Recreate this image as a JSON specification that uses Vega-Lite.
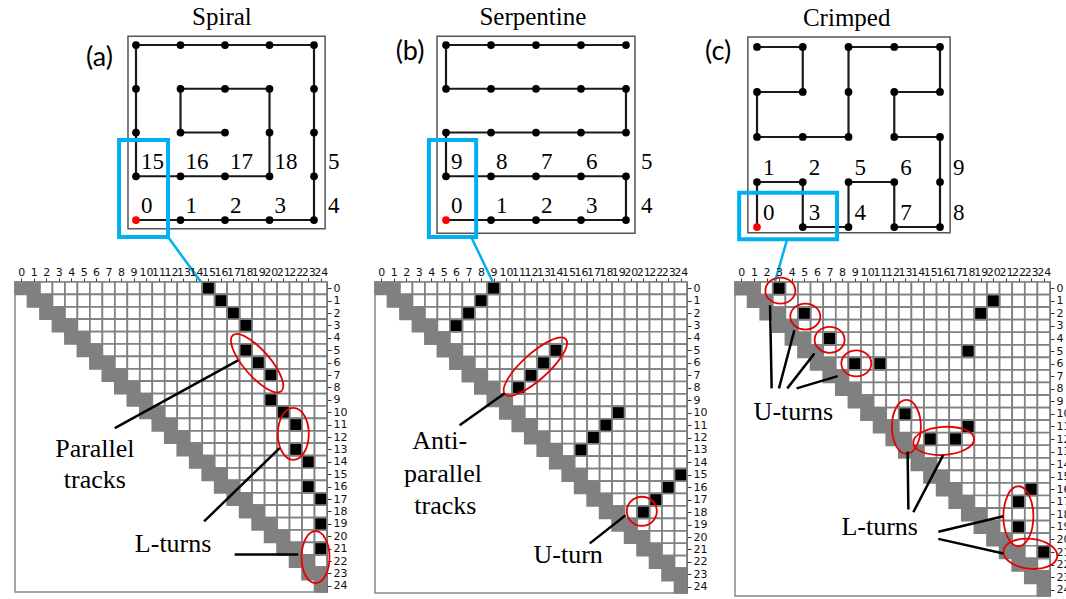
{
"$schema": "https://vega.github.io/schema/vega-lite/v6.json",
"padding": {"left": 10, "top": 0, "right": 0, "bottom": 0},
"autosize": {"type": "pad"},
"background": "white",
"config": {
  "view": {"stroke": null},
  "axis": {"title": null, "grid": false, "domain": true, "domainColor": "#333", "domainWidth": 1, "tickColor": "#333", "tickSize": 4, "labelFont": "DejaVu Sans", "labelFontSize": 11, "labelColor": "#111", "labelOverlap": false, "labelFlush": false, "labelPadding": 1}
},
"datasets": {
  "cells": [
{"r":0,"c":0},{"r":0,"c":1},{"r":0,"c":2},{"r":0,"c":3},{"r":0,"c":4},{"r":0,"c":5},{"r":0,"c":6},{"r":0,"c":7},{"r":0,"c":8},{"r":0,"c":9},{"r":0,"c":10},{"r":0,"c":11},{"r":0,"c":12},{"r":0,"c":13},{"r":0,"c":14},{"r":0,"c":15},{"r":0,"c":16},{"r":0,"c":17},{"r":0,"c":18},{"r":0,"c":19},{"r":0,"c":20},{"r":0,"c":21},{"r":0,"c":22},{"r":0,"c":23},{"r":0,"c":24},
{"r":1,"c":1},{"r":1,"c":2},{"r":1,"c":3},{"r":1,"c":4},{"r":1,"c":5},{"r":1,"c":6},{"r":1,"c":7},{"r":1,"c":8},{"r":1,"c":9},{"r":1,"c":10},{"r":1,"c":11},{"r":1,"c":12},{"r":1,"c":13},{"r":1,"c":14},{"r":1,"c":15},{"r":1,"c":16},{"r":1,"c":17},{"r":1,"c":18},{"r":1,"c":19},{"r":1,"c":20},{"r":1,"c":21},{"r":1,"c":22},{"r":1,"c":23},{"r":1,"c":24},
{"r":2,"c":2},{"r":2,"c":3},{"r":2,"c":4},{"r":2,"c":5},{"r":2,"c":6},{"r":2,"c":7},{"r":2,"c":8},{"r":2,"c":9},{"r":2,"c":10},{"r":2,"c":11},{"r":2,"c":12},{"r":2,"c":13},{"r":2,"c":14},{"r":2,"c":15},{"r":2,"c":16},{"r":2,"c":17},{"r":2,"c":18},{"r":2,"c":19},{"r":2,"c":20},{"r":2,"c":21},{"r":2,"c":22},{"r":2,"c":23},{"r":2,"c":24},
{"r":3,"c":3},{"r":3,"c":4},{"r":3,"c":5},{"r":3,"c":6},{"r":3,"c":7},{"r":3,"c":8},{"r":3,"c":9},{"r":3,"c":10},{"r":3,"c":11},{"r":3,"c":12},{"r":3,"c":13},{"r":3,"c":14},{"r":3,"c":15},{"r":3,"c":16},{"r":3,"c":17},{"r":3,"c":18},{"r":3,"c":19},{"r":3,"c":20},{"r":3,"c":21},{"r":3,"c":22},{"r":3,"c":23},{"r":3,"c":24},
{"r":4,"c":4},{"r":4,"c":5},{"r":4,"c":6},{"r":4,"c":7},{"r":4,"c":8},{"r":4,"c":9},{"r":4,"c":10},{"r":4,"c":11},{"r":4,"c":12},{"r":4,"c":13},{"r":4,"c":14},{"r":4,"c":15},{"r":4,"c":16},{"r":4,"c":17},{"r":4,"c":18},{"r":4,"c":19},{"r":4,"c":20},{"r":4,"c":21},{"r":4,"c":22},{"r":4,"c":23},{"r":4,"c":24},
{"r":5,"c":5},{"r":5,"c":6},{"r":5,"c":7},{"r":5,"c":8},{"r":5,"c":9},{"r":5,"c":10},{"r":5,"c":11},{"r":5,"c":12},{"r":5,"c":13},{"r":5,"c":14},{"r":5,"c":15},{"r":5,"c":16},{"r":5,"c":17},{"r":5,"c":18},{"r":5,"c":19},{"r":5,"c":20},{"r":5,"c":21},{"r":5,"c":22},{"r":5,"c":23},{"r":5,"c":24},
{"r":6,"c":6},{"r":6,"c":7},{"r":6,"c":8},{"r":6,"c":9},{"r":6,"c":10},{"r":6,"c":11},{"r":6,"c":12},{"r":6,"c":13},{"r":6,"c":14},{"r":6,"c":15},{"r":6,"c":16},{"r":6,"c":17},{"r":6,"c":18},{"r":6,"c":19},{"r":6,"c":20},{"r":6,"c":21},{"r":6,"c":22},{"r":6,"c":23},{"r":6,"c":24},
{"r":7,"c":7},{"r":7,"c":8},{"r":7,"c":9},{"r":7,"c":10},{"r":7,"c":11},{"r":7,"c":12},{"r":7,"c":13},{"r":7,"c":14},{"r":7,"c":15},{"r":7,"c":16},{"r":7,"c":17},{"r":7,"c":18},{"r":7,"c":19},{"r":7,"c":20},{"r":7,"c":21},{"r":7,"c":22},{"r":7,"c":23},{"r":7,"c":24},
{"r":8,"c":8},{"r":8,"c":9},{"r":8,"c":10},{"r":8,"c":11},{"r":8,"c":12},{"r":8,"c":13},{"r":8,"c":14},{"r":8,"c":15},{"r":8,"c":16},{"r":8,"c":17},{"r":8,"c":18},{"r":8,"c":19},{"r":8,"c":20},{"r":8,"c":21},{"r":8,"c":22},{"r":8,"c":23},{"r":8,"c":24},
{"r":9,"c":9},{"r":9,"c":10},{"r":9,"c":11},{"r":9,"c":12},{"r":9,"c":13},{"r":9,"c":14},{"r":9,"c":15},{"r":9,"c":16},{"r":9,"c":17},{"r":9,"c":18},{"r":9,"c":19},{"r":9,"c":20},{"r":9,"c":21},{"r":9,"c":22},{"r":9,"c":23},{"r":9,"c":24},
{"r":10,"c":10},{"r":10,"c":11},{"r":10,"c":12},{"r":10,"c":13},{"r":10,"c":14},{"r":10,"c":15},{"r":10,"c":16},{"r":10,"c":17},{"r":10,"c":18},{"r":10,"c":19},{"r":10,"c":20},{"r":10,"c":21},{"r":10,"c":22},{"r":10,"c":23},{"r":10,"c":24},
{"r":11,"c":11},{"r":11,"c":12},{"r":11,"c":13},{"r":11,"c":14},{"r":11,"c":15},{"r":11,"c":16},{"r":11,"c":17},{"r":11,"c":18},{"r":11,"c":19},{"r":11,"c":20},{"r":11,"c":21},{"r":11,"c":22},{"r":11,"c":23},{"r":11,"c":24},
{"r":12,"c":12},{"r":12,"c":13},{"r":12,"c":14},{"r":12,"c":15},{"r":12,"c":16},{"r":12,"c":17},{"r":12,"c":18},{"r":12,"c":19},{"r":12,"c":20},{"r":12,"c":21},{"r":12,"c":22},{"r":12,"c":23},{"r":12,"c":24},
{"r":13,"c":13},{"r":13,"c":14},{"r":13,"c":15},{"r":13,"c":16},{"r":13,"c":17},{"r":13,"c":18},{"r":13,"c":19},{"r":13,"c":20},{"r":13,"c":21},{"r":13,"c":22},{"r":13,"c":23},{"r":13,"c":24},
{"r":14,"c":14},{"r":14,"c":15},{"r":14,"c":16},{"r":14,"c":17},{"r":14,"c":18},{"r":14,"c":19},{"r":14,"c":20},{"r":14,"c":21},{"r":14,"c":22},{"r":14,"c":23},{"r":14,"c":24},
{"r":15,"c":15},{"r":15,"c":16},{"r":15,"c":17},{"r":15,"c":18},{"r":15,"c":19},{"r":15,"c":20},{"r":15,"c":21},{"r":15,"c":22},{"r":15,"c":23},{"r":15,"c":24},
{"r":16,"c":16},{"r":16,"c":17},{"r":16,"c":18},{"r":16,"c":19},{"r":16,"c":20},{"r":16,"c":21},{"r":16,"c":22},{"r":16,"c":23},{"r":16,"c":24},
{"r":17,"c":17},{"r":17,"c":18},{"r":17,"c":19},{"r":17,"c":20},{"r":17,"c":21},{"r":17,"c":22},{"r":17,"c":23},{"r":17,"c":24},
{"r":18,"c":18},{"r":18,"c":19},{"r":18,"c":20},{"r":18,"c":21},{"r":18,"c":22},{"r":18,"c":23},{"r":18,"c":24},
{"r":19,"c":19},{"r":19,"c":20},{"r":19,"c":21},{"r":19,"c":22},{"r":19,"c":23},{"r":19,"c":24},
{"r":20,"c":20},{"r":20,"c":21},{"r":20,"c":22},{"r":20,"c":23},{"r":20,"c":24},
{"r":21,"c":21},{"r":21,"c":22},{"r":21,"c":23},{"r":21,"c":24},
{"r":22,"c":22},{"r":22,"c":23},{"r":22,"c":24},
{"r":23,"c":23},{"r":23,"c":24},
{"r":24,"c":24}
  ],
  "contacts": [
{"p":"a","r":0,"c":15},{"p":"a","r":1,"c":16},{"p":"a","r":2,"c":17},{"p":"a","r":3,"c":18},{"p":"a","r":5,"c":18},{"p":"a","r":6,"c":19},{"p":"a","r":7,"c":20},{"p":"a","r":9,"c":20},{"p":"a","r":10,"c":21},{"p":"a","r":11,"c":22},{"p":"a","r":13,"c":22},{"p":"a","r":14,"c":23},{"p":"a","r":16,"c":23},{"p":"a","r":17,"c":24},{"p":"a","r":19,"c":24},{"p":"a","r":21,"c":24},
{"p":"b","r":0,"c":9},{"p":"b","r":1,"c":8},{"p":"b","r":2,"c":7},{"p":"b","r":3,"c":6},{"p":"b","r":5,"c":14},{"p":"b","r":6,"c":13},{"p":"b","r":7,"c":12},{"p":"b","r":8,"c":11},{"p":"b","r":10,"c":19},{"p":"b","r":11,"c":18},{"p":"b","r":12,"c":17},{"p":"b","r":13,"c":16},{"p":"b","r":15,"c":24},{"p":"b","r":16,"c":23},{"p":"b","r":17,"c":22},{"p":"b","r":18,"c":21},
{"p":"c","r":0,"c":3},{"p":"c","r":1,"c":20},{"p":"c","r":2,"c":5},{"p":"c","r":2,"c":19},{"p":"c","r":4,"c":7},{"p":"c","r":5,"c":18},{"p":"c","r":6,"c":9},{"p":"c","r":6,"c":11},{"p":"c","r":10,"c":13},{"p":"c","r":11,"c":18},{"p":"c","r":12,"c":15},{"p":"c","r":12,"c":17},{"p":"c","r":16,"c":23},{"p":"c","r":17,"c":22},{"p":"c","r":19,"c":22},{"p":"c","r":21,"c":24}
  ],
  "ell": [
{"e":"a1","c":18.9,"r":6.05},{"e":"a2","c":21.8,"r":11.75},{"e":"a3","c":23.58,"r":21.69},
{"e":"b1","c":12.35,"r":6.3},{"e":"b2","c":20.88,"r":17.93},
{"e":"c1","c":3.1,"r":0.19},{"e":"c2","c":5.08,"r":2.25},{"e":"c3","c":7.01,"r":4.1},{"e":"c4","c":9.13,"r":5.98},{"e":"c5","c":13.1,"r":11.03},{"e":"c6","c":16.06,"r":12.15},{"e":"c7","c":21.99,"r":18.15},{"e":"c8","c":22.94,"r":21.14}
  ],
  "mline": [
{"p":"a","c":17.37,"r":5.82,"c2":7.5,"r2":11.29},{"p":"a","c":20.7,"r":12.89,"c2":14.65,"r2":18.81},{"p":"a","c":17.1,"r":21.47,"c2":22.2,"r2":21.47},
{"p":"b","c":9.87,"r":8.46,"c2":6.28,"r2":11.02},{"p":"b","c":19.58,"r":18.25,"c2":16.71,"r2":20.51},
{"p":"c","c":2.28,"r":1.35,"c2":2.41,"r2":7.97},{"p":"c","c":4.21,"r":3.34,"c2":2.99,"r2":7.97},{"p":"c","c":5.8,"r":5.19,"c2":3.65,"r2":7.97},{"p":"c","c":7.65,"r":6.99,"c2":4.39,"r2":7.97},
{"p":"c","c":13.2,"r":12.99,"c2":13.26,"r2":17.62},{"p":"c","c":16.03,"r":13.26,"c2":13.65,"r2":17.83},{"p":"c","c":15.64,"r":19.39,"c2":20.8,"r2":18.15},{"p":"c","c":15.64,"r":19.95,"c2":20.8,"r2":21.11}
  ],
  "mtext": [
{"p":"a","t":"Parallel","c":5.9,"r":13.63},{"p":"a","t":"tracks","c":5.9,"r":16.09},{"p":"a","t":"L-turns","c":12.17,"r":21.29},
{"p":"b","t":"Anti-","c":4.69,"r":12.93},{"p":"b","t":"parallel","c":4.95,"r":15.59},{"p":"b","t":"tracks","c":5.14,"r":18.12},{"p":"b","t":"U-turn","c":14.98,"r":22.1},
{"p":"c","t":"U-turns","c":4.13,"r":10.48},{"p":"c","t":"L-turns","c":10.98,"r":19.66}
  ],
  "nodes": [
{"p":"a","i":0,"x":0,"y":0,"l":1},{"p":"a","i":1,"x":1,"y":0,"l":1},{"p":"a","i":2,"x":2,"y":0,"l":1},{"p":"a","i":3,"x":3,"y":0,"l":1},{"p":"a","i":4,"x":4,"y":0,"l":1},{"p":"a","i":5,"x":4,"y":1,"l":1},{"p":"a","i":6,"x":4,"y":2},{"p":"a","i":7,"x":4,"y":3},{"p":"a","i":8,"x":4,"y":4},{"p":"a","i":9,"x":3,"y":4},{"p":"a","i":10,"x":2,"y":4},{"p":"a","i":11,"x":1,"y":4},{"p":"a","i":12,"x":0,"y":4},{"p":"a","i":13,"x":0,"y":3},{"p":"a","i":14,"x":0,"y":2},{"p":"a","i":15,"x":0,"y":1,"l":1},{"p":"a","i":16,"x":1,"y":1,"l":1},{"p":"a","i":17,"x":2,"y":1,"l":1},{"p":"a","i":18,"x":3,"y":1,"l":1},{"p":"a","i":19,"x":3,"y":2},{"p":"a","i":20,"x":3,"y":3},{"p":"a","i":21,"x":2,"y":3},{"p":"a","i":22,"x":1,"y":3},{"p":"a","i":23,"x":1,"y":2},{"p":"a","i":24,"x":2,"y":2},
{"p":"b","i":0,"x":0,"y":0,"l":1},{"p":"b","i":1,"x":1,"y":0,"l":1},{"p":"b","i":2,"x":2,"y":0,"l":1},{"p":"b","i":3,"x":3,"y":0,"l":1},{"p":"b","i":4,"x":4,"y":0,"l":1},{"p":"b","i":5,"x":4,"y":1,"l":1},{"p":"b","i":6,"x":3,"y":1,"l":1},{"p":"b","i":7,"x":2,"y":1,"l":1},{"p":"b","i":8,"x":1,"y":1,"l":1},{"p":"b","i":9,"x":0,"y":1,"l":1},{"p":"b","i":10,"x":0,"y":2},{"p":"b","i":11,"x":1,"y":2},{"p":"b","i":12,"x":2,"y":2},{"p":"b","i":13,"x":3,"y":2},{"p":"b","i":14,"x":4,"y":2},{"p":"b","i":15,"x":4,"y":3},{"p":"b","i":16,"x":3,"y":3},{"p":"b","i":17,"x":2,"y":3},{"p":"b","i":18,"x":1,"y":3},{"p":"b","i":19,"x":0,"y":3},{"p":"b","i":20,"x":0,"y":4},{"p":"b","i":21,"x":1,"y":4},{"p":"b","i":22,"x":2,"y":4},{"p":"b","i":23,"x":3,"y":4},{"p":"b","i":24,"x":4,"y":4},
{"p":"c","i":0,"x":0,"y":0,"l":1},{"p":"c","i":1,"x":0,"y":1,"l":1},{"p":"c","i":2,"x":1,"y":1,"l":1},{"p":"c","i":3,"x":1,"y":0,"l":1},{"p":"c","i":4,"x":2,"y":0,"l":1},{"p":"c","i":5,"x":2,"y":1,"l":1},{"p":"c","i":6,"x":3,"y":1,"l":1},{"p":"c","i":7,"x":3,"y":0,"l":1},{"p":"c","i":8,"x":4,"y":0,"l":1},{"p":"c","i":9,"x":4,"y":1,"l":1},{"p":"c","i":10,"x":4,"y":2},{"p":"c","i":11,"x":3,"y":2},{"p":"c","i":12,"x":3,"y":3},{"p":"c","i":13,"x":4,"y":3},{"p":"c","i":14,"x":4,"y":4},{"p":"c","i":15,"x":3,"y":4},{"p":"c","i":16,"x":2,"y":4},{"p":"c","i":17,"x":2,"y":3},{"p":"c","i":18,"x":2,"y":2},{"p":"c","i":19,"x":1,"y":2},{"p":"c","i":20,"x":0,"y":2},{"p":"c","i":21,"x":0,"y":3},{"p":"c","i":22,"x":1,"y":3},{"p":"c","i":23,"x":1,"y":4},{"p":"c","i":24,"x":0,"y":4}
  ],
  "rects": [
{"p":"a","k":"f","x":-0.18,"x2":4.25,"y":-0.2,"y2":4.2},{"p":"a","k":"h","x":-0.38,"x2":0.72,"y":-0.39,"y2":1.83},
{"p":"b","k":"f","x":-0.2,"x2":4.2,"y":-0.3,"y2":4.2},{"p":"b","k":"h","x":-0.38,"x2":0.67,"y":-0.39,"y2":1.83},
{"p":"c","k":"f","x":-0.2,"x2":4.22,"y":-0.13,"y2":4.22},{"p":"c","k":"h","x":-0.39,"x2":1.75,"y":-0.27,"y2":0.76}
  ],
  "conn": [
{"p":"a","x":0.72,"y":-0.39,"x2":1.46,"y2":-1.417},
{"p":"b","x":0.56,"y":-0.39,"x2":1.04,"y2":-1.417},
{"p":"c","x":0.66,"y":-0.27,"x2":0.39,"y2":-1.222}
  ],
  "dtext": [
{"p":"a","k":"t","t":"Spiral","x":1.93,"y":4.46},{"p":"a","k":"p","t":"(a)","x":-0.82,"y":3.7},
{"p":"b","k":"t","t":"Serpentine","x":1.93,"y":4.46},{"p":"b","k":"p","t":"(b)","x":-0.8,"y":3.85},
{"p":"c","k":"t","t":"Crimped","x":1.96,"y":4.47},{"p":"c","k":"p","t":"(c)","x":-0.85,"y":3.88}
  ]
},
"columns": 3,
"bounds": "flush",
"align": "each",
"spacing": {"row": 0, "column": 48},
"concat": [
{
 "width": 312, "height": 282,
 "encoding": {
  "x": {"field": "x", "type": "quantitative", "scale": {"domain": [-2.719, 4.292], "nice": false, "zero": false}, "axis": null},
  "y": {"field": "y", "type": "quantitative", "scale": {"domain": [-1.417, 5.029], "nice": false, "zero": false}, "axis": null}
 },
 "layer": [
  {"data": {"name": "rects"}, "transform": [{"filter": "datum.p=='a' && datum.k=='f'"}], "mark": {"type": "rect", "filled": false, "stroke": "#555", "strokeWidth": 1.5}, "encoding": {"x2": {"field": "x2"}, "y2": {"field": "y2"}}},
  {"data": {"name": "nodes"}, "transform": [{"filter": "datum.p=='a'"}], "mark": {"type": "line", "color": "#1a1a1a", "strokeWidth": 2.2}, "encoding": {"order": {"field": "i", "type": "quantitative"}}},
  {"data": {"name": "nodes"}, "transform": [{"filter": "datum.p=='a' && datum.i>0"}], "mark": {"type": "circle", "color": "#000", "size": 60, "opacity": 1}},
  {"data": {"name": "nodes"}, "transform": [{"filter": "datum.p=='a' && datum.i==0"}], "mark": {"type": "circle", "color": "#ff0000", "size": 60, "opacity": 1}},
  {"data": {"name": "nodes"}, "transform": [{"filter": "datum.p=='a' && datum.l==1 && datum.x<4"}], "mark": {"type": "text", "font": "Liberation Serif", "fontSize": 23, "align": "left", "baseline": "alphabetic", "dx": 5, "dy": -7}, "encoding": {"text": {"field": "i", "type": "nominal"}}},
  {"data": {"name": "nodes"}, "transform": [{"filter": "datum.p=='a' && datum.l==1 && datum.x==4"}], "mark": {"type": "text", "font": "Liberation Serif", "fontSize": 23, "align": "left", "baseline": "alphabetic", "dx": 14, "dy": -7}, "encoding": {"text": {"field": "i", "type": "nominal"}}},
  {"data": {"name": "rects"}, "transform": [{"filter": "datum.p=='a' && datum.k=='h'"}], "mark": {"type": "rect", "filled": false, "stroke": "#00b0f0", "strokeWidth": 4}, "encoding": {"x2": {"field": "x2"}, "y2": {"field": "y2"}}},
  {"data": {"name": "conn"}, "transform": [{"filter": "datum.p=='a'"}], "mark": {"type": "rule", "color": "#00b0f0", "strokeWidth": 2.5}, "encoding": {"x2": {"field": "x2"}, "y2": {"field": "y2"}}},
  {"data": {"name": "dtext"}, "transform": [{"filter": "datum.p=='a' && datum.k=='t'"}], "mark": {"type": "text", "font": "Liberation Serif", "fontSize": 25, "align": "center", "baseline": "alphabetic"}, "encoding": {"text": {"field": "t"}}},
  {"data": {"name": "dtext"}, "transform": [{"filter": "datum.p=='a' && datum.k=='p'"}], "mark": {"type": "text", "font": "Lato", "fontSize": 27, "align": "center", "baseline": "middle"}, "encoding": {"text": {"field": "t"}}}
 ]
},
{
 "width": 312, "height": 282,
 "encoding": {
  "x": {"field": "x", "type": "quantitative", "scale": {"domain": [-1.578, 5.356], "nice": false, "zero": false}, "axis": null},
  "y": {"field": "y", "type": "quantitative", "scale": {"domain": [-1.417, 5.029], "nice": false, "zero": false}, "axis": null}
 },
 "layer": [
  {"data": {"name": "rects"}, "transform": [{"filter": "datum.p=='b' && datum.k=='f'"}], "mark": {"type": "rect", "filled": false, "stroke": "#555", "strokeWidth": 1.5}, "encoding": {"x2": {"field": "x2"}, "y2": {"field": "y2"}}},
  {"data": {"name": "nodes"}, "transform": [{"filter": "datum.p=='b'"}], "mark": {"type": "line", "color": "#1a1a1a", "strokeWidth": 2.2}, "encoding": {"order": {"field": "i", "type": "quantitative"}}},
  {"data": {"name": "nodes"}, "transform": [{"filter": "datum.p=='b' && datum.i>0"}], "mark": {"type": "circle", "color": "#000", "size": 60, "opacity": 1}},
  {"data": {"name": "nodes"}, "transform": [{"filter": "datum.p=='b' && datum.i==0"}], "mark": {"type": "circle", "color": "#ff0000", "size": 60, "opacity": 1}},
  {"data": {"name": "nodes"}, "transform": [{"filter": "datum.p=='b' && datum.l==1 && datum.x<4"}], "mark": {"type": "text", "font": "Liberation Serif", "fontSize": 23, "align": "left", "baseline": "alphabetic", "dx": 5, "dy": -7}, "encoding": {"text": {"field": "i", "type": "nominal"}}},
  {"data": {"name": "nodes"}, "transform": [{"filter": "datum.p=='b' && datum.l==1 && datum.x==4"}], "mark": {"type": "text", "font": "Liberation Serif", "fontSize": 23, "align": "left", "baseline": "alphabetic", "dx": 15, "dy": -7}, "encoding": {"text": {"field": "i", "type": "nominal"}}},
  {"data": {"name": "rects"}, "transform": [{"filter": "datum.p=='b' && datum.k=='h'"}], "mark": {"type": "rect", "filled": false, "stroke": "#00b0f0", "strokeWidth": 4}, "encoding": {"x2": {"field": "x2"}, "y2": {"field": "y2"}}},
  {"data": {"name": "conn"}, "transform": [{"filter": "datum.p=='b'"}], "mark": {"type": "rule", "color": "#00b0f0", "strokeWidth": 2.5}, "encoding": {"x2": {"field": "x2"}, "y2": {"field": "y2"}}},
  {"data": {"name": "dtext"}, "transform": [{"filter": "datum.p=='b' && datum.k=='t'"}], "mark": {"type": "text", "font": "Liberation Serif", "fontSize": 25, "align": "center", "baseline": "alphabetic"}, "encoding": {"text": {"field": "t"}}},
  {"data": {"name": "dtext"}, "transform": [{"filter": "datum.p=='b' && datum.k=='p'"}], "mark": {"type": "text", "font": "Lato", "fontSize": 27, "align": "center", "baseline": "middle"}, "encoding": {"text": {"field": "t"}}}
 ]
},
{
 "width": 315, "height": 282,
 "encoding": {
  "x": {"field": "x", "type": "quantitative", "scale": {"domain": [-0.481, 6.404], "nice": false, "zero": false}, "axis": null},
  "y": {"field": "y", "type": "quantitative", "scale": {"domain": [-1.222, 5.044], "nice": false, "zero": false}, "axis": null}
 },
 "layer": [
  {"data": {"name": "rects"}, "transform": [{"filter": "datum.p=='c' && datum.k=='f'"}], "mark": {"type": "rect", "filled": false, "stroke": "#555", "strokeWidth": 1.5}, "encoding": {"x2": {"field": "x2"}, "y2": {"field": "y2"}}},
  {"data": {"name": "nodes"}, "transform": [{"filter": "datum.p=='c'"}], "mark": {"type": "line", "color": "#1a1a1a", "strokeWidth": 2.2}, "encoding": {"order": {"field": "i", "type": "quantitative"}}},
  {"data": {"name": "nodes"}, "transform": [{"filter": "datum.p=='c' && datum.i>0"}], "mark": {"type": "circle", "color": "#000", "size": 60, "opacity": 1}},
  {"data": {"name": "nodes"}, "transform": [{"filter": "datum.p=='c' && datum.i==0"}], "mark": {"type": "circle", "color": "#ff0000", "size": 60, "opacity": 1}},
  {"data": {"name": "nodes"}, "transform": [{"filter": "datum.p=='c' && datum.l==1 && datum.x<4"}], "mark": {"type": "text", "font": "Liberation Serif", "fontSize": 23, "align": "left", "baseline": "alphabetic", "dx": 6, "dy": -7}, "encoding": {"text": {"field": "i", "type": "nominal"}}},
  {"data": {"name": "nodes"}, "transform": [{"filter": "datum.p=='c' && datum.l==1 && datum.x==4"}], "mark": {"type": "text", "font": "Liberation Serif", "fontSize": 23, "align": "left", "baseline": "alphabetic", "dx": 13, "dy": -7}, "encoding": {"text": {"field": "i", "type": "nominal"}}},
  {"data": {"name": "rects"}, "transform": [{"filter": "datum.p=='c' && datum.k=='h'"}], "mark": {"type": "rect", "filled": false, "stroke": "#00b0f0", "strokeWidth": 4}, "encoding": {"x2": {"field": "x2"}, "y2": {"field": "y2"}}},
  {"data": {"name": "conn"}, "transform": [{"filter": "datum.p=='c'"}], "mark": {"type": "rule", "color": "#00b0f0", "strokeWidth": 2.5}, "encoding": {"x2": {"field": "x2"}, "y2": {"field": "y2"}}},
  {"data": {"name": "dtext"}, "transform": [{"filter": "datum.p=='c' && datum.k=='t'"}], "mark": {"type": "text", "font": "Liberation Serif", "fontSize": 25, "align": "center", "baseline": "alphabetic"}, "encoding": {"text": {"field": "t"}}},
  {"data": {"name": "dtext"}, "transform": [{"filter": "datum.p=='c' && datum.k=='p'"}], "mark": {"type": "text", "font": "Lato", "fontSize": 27, "align": "center", "baseline": "middle"}, "encoding": {"text": {"field": "t"}}}
 ]
},
{
 "width": 312, "height": 310,
 "view": {"stroke": "#888", "strokeWidth": 1.5},
 "encoding": {
  "x": {"field": "c", "type": "quantitative", "scale": {"domain": [-0.5, 24.5], "nice": false, "zero": false}, "axis": {"orient": "top", "format": "d", "values": [0,1,2,3,4,5,6,7,8,9,10,11,12,13,14,15,16,17,18,19,20,21,22,23,24]}},
  "y": {"field": "r", "type": "quantitative", "scale": {"domain": [-0.5, 24.5], "nice": false, "zero": false, "reverse": true}, "axis": {"orient": "right", "format": "d", "labelPadding": 2, "values": [0,1,2,3,4,5,6,7,8,9,10,11,12,13,14,15,16,17,18,19,20,21,22,23,24]}}
 },
 "layer": [
  {"data": {"name": "cells"}, "mark": {"type": "square", "size": 154.8, "opacity": 1, "stroke": "#808080", "strokeWidth": 1.7}, "encoding": {"fill": {"condition": {"test": "datum.c - datum.r <= 1", "value": "#808080"}, "value": "#ffffff"}}},
  {"data": {"name": "contacts"}, "transform": [{"filter": "datum.p=='a'"}], "mark": {"type": "square", "size": 154.8, "opacity": 1, "fill": "#000", "stroke": "#808080", "strokeWidth": 1.7}},
  {"data": {"name": "ell"}, "transform": [{"filter": "datum.e=='a1'"}], "mark": {"type": "point", "shape": "M-37,0A37,13,0,1,0,37,0A37,13,0,1,0,-37,0Z", "size": 4, "angle": 49, "filled": false, "color": "#e60000", "strokeWidth": 1.8, "opacity": 1}},
  {"data": {"name": "ell"}, "transform": [{"filter": "datum.e=='a2'"}], "mark": {"type": "point", "shape": "M-15.5,0A15.5,26,0,1,0,15.5,0A15.5,26,0,1,0,-15.5,0Z", "size": 4, "filled": false, "color": "#e60000", "strokeWidth": 1.8, "opacity": 1}},
  {"data": {"name": "ell"}, "transform": [{"filter": "datum.e=='a3'"}], "mark": {"type": "point", "shape": "M-14,0A14,26,0,1,0,14,0A14,26,0,1,0,-14,0Z", "size": 4, "filled": false, "color": "#e60000", "strokeWidth": 1.8, "opacity": 1}},
  {"data": {"name": "mline"}, "transform": [{"filter": "datum.p=='a'"}], "mark": {"type": "rule", "color": "#000", "strokeWidth": 2.5}, "encoding": {"x2": {"field": "c2"}, "y2": {"field": "r2"}}},
  {"data": {"name": "mtext"}, "transform": [{"filter": "datum.p=='a'"}], "mark": {"type": "text", "font": "Liberation Serif", "fontSize": 26, "align": "center", "baseline": "alphabetic"}, "encoding": {"text": {"field": "t"}}}
 ]
},
{
 "width": 312, "height": 311,
 "view": {"stroke": "#888", "strokeWidth": 1.5},
 "encoding": {
  "x": {"field": "c", "type": "quantitative", "scale": {"domain": [-0.5, 24.5], "nice": false, "zero": false}, "axis": {"orient": "top", "format": "d", "values": [0,1,2,3,4,5,6,7,8,9,10,11,12,13,14,15,16,17,18,19,20,21,22,23,24]}},
  "y": {"field": "r", "type": "quantitative", "scale": {"domain": [-0.5, 24.5], "nice": false, "zero": false, "reverse": true}, "axis": {"orient": "right", "format": "d", "labelPadding": 2, "values": [0,1,2,3,4,5,6,7,8,9,10,11,12,13,14,15,16,17,18,19,20,21,22,23,24]}}
 },
 "layer": [
  {"data": {"name": "cells"}, "mark": {"type": "square", "size": 155.3, "opacity": 1, "stroke": "#808080", "strokeWidth": 1.7}, "encoding": {"fill": {"condition": {"test": "datum.c - datum.r <= 1", "value": "#808080"}, "value": "#ffffff"}}},
  {"data": {"name": "contacts"}, "transform": [{"filter": "datum.p=='b'"}], "mark": {"type": "square", "size": 155.3, "opacity": 1, "fill": "#000", "stroke": "#808080", "strokeWidth": 1.7}},
  {"data": {"name": "ell"}, "transform": [{"filter": "datum.e=='b1'"}], "mark": {"type": "point", "shape": "M-41,0A41,13,0,1,0,41,0A41,13,0,1,0,-41,0Z", "size": 4, "angle": -42, "filled": false, "color": "#e60000", "strokeWidth": 1.8, "opacity": 1}},
  {"data": {"name": "ell"}, "transform": [{"filter": "datum.e=='b2'"}], "mark": {"type": "point", "shape": "M-15,0A15,14.5,0,1,0,15,0A15,14.5,0,1,0,-15,0Z", "size": 4, "filled": false, "color": "#e60000", "strokeWidth": 1.8, "opacity": 1}},
  {"data": {"name": "mline"}, "transform": [{"filter": "datum.p=='b'"}], "mark": {"type": "rule", "color": "#000", "strokeWidth": 2.5}, "encoding": {"x2": {"field": "c2"}, "y2": {"field": "r2"}}},
  {"data": {"name": "mtext"}, "transform": [{"filter": "datum.p=='b'"}], "mark": {"type": "text", "font": "Liberation Serif", "fontSize": 26, "align": "center", "baseline": "alphabetic"}, "encoding": {"text": {"field": "t"}}}
 ]
},
{
 "width": 315, "height": 314,
 "view": {"stroke": "#888", "strokeWidth": 1.5},
 "encoding": {
  "x": {"field": "c", "type": "quantitative", "scale": {"domain": [-0.5, 24.5], "nice": false, "zero": false}, "axis": {"orient": "top", "format": "d", "values": [0,1,2,3,4,5,6,7,8,9,10,11,12,13,14,15,16,17,18,19,20,21,22,23,24]}},
  "y": {"field": "r", "type": "quantitative", "scale": {"domain": [-0.5, 24.5], "nice": false, "zero": false, "reverse": true}, "axis": {"orient": "right", "format": "d", "labelPadding": 2, "values": [0,1,2,3,4,5,6,7,8,9,10,11,12,13,14,15,16,17,18,19,20,21,22,23,24]}}
 },
 "layer": [
  {"data": {"name": "cells"}, "mark": {"type": "square", "size": 158.3, "opacity": 1, "stroke": "#808080", "strokeWidth": 1.7}, "encoding": {"fill": {"condition": {"test": "datum.c - datum.r <= 1", "value": "#808080"}, "value": "#ffffff"}}},
  {"data": {"name": "contacts"}, "transform": [{"filter": "datum.p=='c'"}], "mark": {"type": "square", "size": 158.3, "opacity": 1, "fill": "#000", "stroke": "#808080", "strokeWidth": 1.7}},
  {"data": {"name": "ell"}, "transform": [{"filter": "datum.e=='c1' || datum.e=='c2' || datum.e=='c3' || datum.e=='c4'"}], "mark": {"type": "point", "shape": "M-15,0A15,13,0,1,0,15,0A15,13,0,1,0,-15,0Z", "size": 4, "filled": false, "color": "#e60000", "strokeWidth": 1.8, "opacity": 1}},
  {"data": {"name": "ell"}, "transform": [{"filter": "datum.e=='c5'"}], "mark": {"type": "point", "shape": "M-14.5,0A14.5,27,0,1,0,14.5,0A14.5,27,0,1,0,-14.5,0Z", "size": 4, "filled": false, "color": "#e60000", "strokeWidth": 1.8, "opacity": 1}},
  {"data": {"name": "ell"}, "transform": [{"filter": "datum.e=='c6'"}], "mark": {"type": "point", "shape": "M-30.5,0A30.5,14,0,1,0,30.5,0A30.5,14,0,1,0,-30.5,0Z", "size": 4, "angle": -4, "filled": false, "color": "#e60000", "strokeWidth": 1.8, "opacity": 1}},
  {"data": {"name": "ell"}, "transform": [{"filter": "datum.e=='c7'"}], "mark": {"type": "point", "shape": "M-15,0A15,30,0,1,0,15,0A15,30,0,1,0,-15,0Z", "size": 4, "filled": false, "color": "#e60000", "strokeWidth": 1.8, "opacity": 1}},
  {"data": {"name": "ell"}, "transform": [{"filter": "datum.e=='c8'"}], "mark": {"type": "point", "shape": "M-27,0A27,15,0,1,0,27,0A27,15,0,1,0,-27,0Z", "size": 4, "angle": 6, "filled": false, "color": "#e60000", "strokeWidth": 1.8, "opacity": 1}},
  {"data": {"name": "mline"}, "transform": [{"filter": "datum.p=='c'"}], "mark": {"type": "rule", "color": "#000", "strokeWidth": 2.5}, "encoding": {"x2": {"field": "c2"}, "y2": {"field": "r2"}}},
  {"data": {"name": "mtext"}, "transform": [{"filter": "datum.p=='c'"}], "mark": {"type": "text", "font": "Liberation Serif", "fontSize": 26, "align": "center", "baseline": "alphabetic"}, "encoding": {"text": {"field": "t"}}}
 ]
}
]
}
